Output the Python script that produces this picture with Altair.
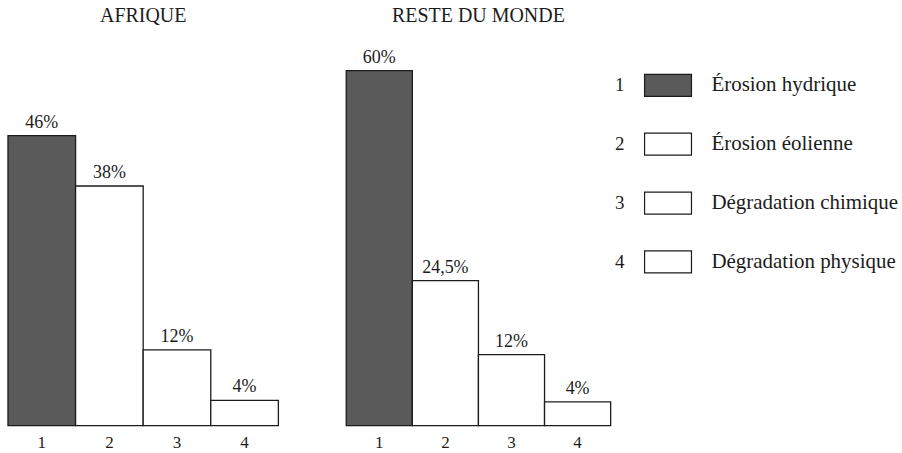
import altair as alt
import pandas as pd

# Share of degraded soils by cause (%)
causes = ["1", "2", "3", "4"]
cause_names = ["Érosion hydrique", "Érosion éolienne", "Dégradation chimique", "Dégradation physique"]
afrique = [46, 38, 12, 4]
reste_du_monde = [60, 24.5, 12, 4]

SERIF = "Liberation Serif"
INK = "#1c1c1c"
DARK = "#5a5a5a"
fills = [DARK, "#ffffff", "#ffffff", "#ffffff"]


def pct_label(v):
    return f"{v:g}".replace(".", ",") + "%"


def panel(values, title, width, ymax):
    df = pd.DataFrame({
        "cause": causes,
        "pct": values,
        "label": [pct_label(v) for v in values],
    })
    base = alt.Chart(df).encode(
        x=alt.X(
            "cause:O",
            sort=causes,
            scale=alt.Scale(paddingInner=0, paddingOuter=0),
            axis=alt.Axis(
                title=None, labelAngle=0, ticks=False, domain=False,
                labelPadding=9, labelFont=SERIF, labelFontSize=17,
                labelColor=INK,
            ),
        )
    )
    bars = base.mark_bar(stroke=INK, strokeWidth=1.3).encode(
        y=alt.Y("pct:Q", scale=alt.Scale(domain=[0, ymax], nice=False), axis=None),
        fill=alt.Fill("cause:O", scale=alt.Scale(domain=causes, range=fills), legend=None),
    )
    labels = base.mark_text(
        baseline="alphabetic", dy=-8, font=SERIF, fontSize=18, color=INK
    ).encode(y="pct:Q", text="label:N")
    return alt.layer(bars, labels).properties(
        width=width,
        height=386,
        title=alt.TitleParams(
            title, font=SERIF, fontSize=20, fontWeight="normal",
            color=INK, anchor="middle", offset=14,
        ),
    )


left = panel(afrique, "AFRIQUE", 271, 61.1)
right = panel(reste_du_monde, "RESTE DU MONDE", 265, 65.1)

legend_df = pd.DataFrame({"cause": causes, "name": cause_names})
ly = alt.Y(
    "cause:O", sort=causes, axis=None,
    scale=alt.Scale(range=[15.5, 251.5], paddingInner=0.627, paddingOuter=0.3135),
)
legend_base = alt.Chart(legend_df).encode(y=ly)
legend = alt.layer(
    legend_base.mark_text(align="center", font=SERIF, fontSize=19, color=INK).encode(
        x=alt.value(7), text="cause:N"
    ),
    legend_base.mark_rect(stroke=INK, strokeWidth=1.2).encode(
        x=alt.value(32), x2=alt.value(79),
        fill=alt.Fill("cause:O", scale=alt.Scale(domain=causes, range=fills), legend=None),
    ),
    legend_base.mark_text(align="left", font=SERIF, fontSize=21, color=INK).encode(
        x=alt.value(99), text="name:N"
    ),
).properties(
    width=290,
    height=386,
    title=alt.TitleParams(" ", font=SERIF, fontSize=20, offset=14),
)

chart = alt.hconcat(
    alt.hconcat(left, right, spacing=66),
    legend,
    spacing=1,
).properties(
    padding={"left": 7, "top": 6, "right": 0, "bottom": 0},
).configure_view(stroke=None).configure_concat(spacing=0)

chart.save("out.html", embed_options={"renderer": "svg", "actions": False})
